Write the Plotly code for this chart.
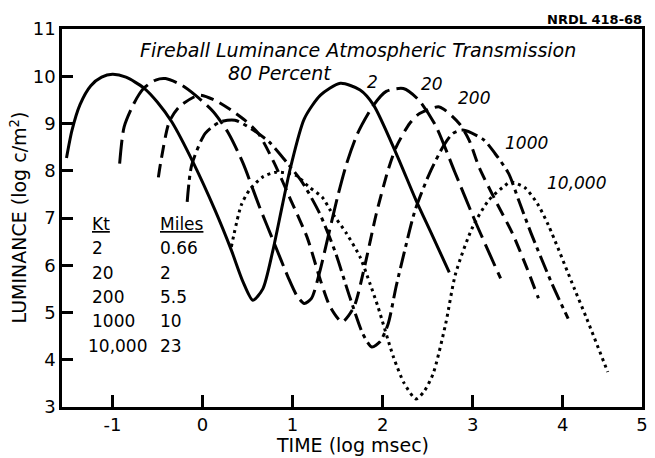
import plotly.graph_objects as go

# ---------------- data ----------------
yield_kt = ["2", "20", "200", "1000", "10,000"]
distance_miles = ["0.66", "2", "5.5", "10", "23"]

# 2 kt (solid)
x_2kt = [-1.51, -1.45, -1.36, -1.24, -1.12, -1.00, -0.85, -0.65, -0.50, -0.34, -0.10, 0.14,
         0.32, 0.45, 0.56, 0.67, 0.78, 0.89, 0.98, 1.13, 1.31, 1.53, 1.75, 1.90, 2.15, 2.37,
         2.54, 2.74]
y_2kt = [8.27, 8.85, 9.40, 9.80, 9.98, 10.04, 9.98, 9.75, 9.45, 9.03, 8.16, 7.16,
         6.32, 5.65, 5.26, 5.50, 6.30, 7.30, 8.09, 9.10, 9.60, 9.85, 9.71, 9.39, 8.37, 7.38,
         6.68, 5.85]

# 20 kt (long dash)
x_20kt = [-0.92, -0.87, -0.76, -0.65, -0.52, -0.41, -0.23, -0.08, 0.12, 0.29, 0.45, 0.63,
          0.80, 0.95, 1.05, 1.13, 1.21, 1.30, 1.40, 1.50, 1.60, 1.72, 1.90, 2.04, 2.23, 2.40,
          2.59, 2.80, 3.03, 3.31]
y_20kt = [8.15, 8.93, 9.43, 9.75, 9.92, 9.95, 9.81, 9.60, 9.25, 8.79, 8.16, 7.25,
          6.45, 5.75, 5.35, 5.19, 5.30, 5.85, 6.65, 7.45, 8.15, 8.78, 9.39, 9.68, 9.74, 9.50,
          8.95, 7.98, 6.92, 5.72]

# 200 kt (dash)
x_200kt = [-0.49, -0.46, -0.37, -0.26, -0.04, 0.14, 0.32, 0.47, 0.62, 0.80, 0.98, 1.16,
           1.31, 1.42, 1.55, 1.68, 1.79, 1.93, 2.06, 2.15, 2.30, 2.41, 2.63, 2.85, 2.96,
           3.07, 3.25, 3.44, 3.60, 3.73]
y_200kt = [7.86, 8.22, 9.03, 9.35, 9.60, 9.49, 9.28, 9.07, 8.79, 8.15, 7.38, 6.60,
           5.68, 5.11, 4.80, 5.11, 5.89, 7.09, 8.01, 8.50, 9.00, 9.21, 9.35, 9.00, 8.65,
           8.08, 7.38, 6.68, 5.95, 5.30]

# 1000 kt (dash-dot)
x_1000kt = [-0.17, -0.12, 0.03, 0.19, 0.36, 0.54, 0.74, 0.96, 1.11, 1.30, 1.47, 1.64,
            1.78, 1.88, 1.97, 2.06, 2.15, 2.25, 2.36, 2.52, 2.68, 2.78, 2.89, 3.12, 3.25,
            3.40, 3.51, 3.65, 3.88, 4.06]
y_1000kt = [7.34, 8.12, 8.79, 9.03, 9.07, 8.89, 8.61, 8.12, 7.75, 7.10, 6.30, 5.30,
            4.55, 4.27, 4.38, 4.75, 5.55, 6.35, 7.16, 7.94, 8.54, 8.79, 8.86, 8.66, 8.36,
            7.94, 7.38, 6.67, 5.61, 4.87]

# 10,000 kt (dotted)
x_10000kt = [0.32, 0.43, 0.52, 0.67, 0.82, 1.04, 1.18, 1.33, 1.42, 1.60, 1.75, 1.86, 1.95,
             2.12, 2.24, 2.37, 2.46, 2.56, 2.70, 2.81, 3.00, 3.18, 3.36, 3.42, 3.58, 3.72,
             3.84, 4.13, 4.26, 4.50]
y_10000kt = [6.39, 7.27, 7.59, 7.87, 7.97, 7.90, 7.66, 7.44, 7.16, 6.67, 6.17, 5.61, 5.11,
             4.06, 3.50, 3.17, 3.33, 3.70, 4.76, 5.82, 6.81, 7.38, 7.69, 7.76, 7.64, 7.30,
             6.85, 5.50, 4.90, 3.74]

x_tick_vals = [-1, 0, 1, 2, 3, 4]
x_tick_text = ["-1", "0", "1", "2", "3", "4", "5"]
y_tick_vals = [3, 4, 5, 6, 7, 8, 9, 10, 11]

# ---------------- figure ----------------
FONT = "DejaVu Sans"
series = [
    (x_2kt, y_2kt, "solid"),
    (x_20kt, y_20kt, "24px,7px"),
    (x_200kt, y_200kt, "13px,7px"),
    (x_1000kt, y_1000kt, "17px,5px,4px,5px"),
    (x_10000kt, y_10000kt, "3px,4px"),
]

fig = go.Figure()
for (xs, ys, dash), name in zip(series, yield_kt):
    fig.add_trace(go.Scatter(
        x=xs, y=ys, mode="lines", name=name + " Kt",
        line=dict(color="black", width=3, dash=dash, shape="spline", smoothing=0.7),
        showlegend=False, hoverinfo="skip"))

X_MIN, X_MAX = -1.56, 4.88

annotations = []
# title text inside the plot
annotations.append(dict(x=1.725, y=10.55, text="<i>Fireball Luminance Atmospheric Transmission</i>",
                        showarrow=False, xanchor="center", yanchor="middle",
                        font=dict(family=FONT, size=19, color="black")))
annotations.append(dict(x=0.264, y=10.07, text="<i>80 Percent</i>",
                        showarrow=False, xanchor="left", yanchor="middle",
                        font=dict(family=FONT, size=19, color="black")))
# curve labels
label_pos = [(1.89, 9.88), (2.55, 9.83), (3.02, 9.54), (3.60, 8.58), (4.15, 7.74)]
for lab, (lx, ly) in zip(yield_kt, label_pos):
    annotations.append(dict(x=lx, y=ly, text="<i>" + lab + "</i>", showarrow=False,
                            xanchor="center", yanchor="middle",
                            font=dict(family=FONT, size=17, color="black")))
# table
annotations.append(dict(x=-1.25, y=6.87, text="<u>Kt</u>", showarrow=False, xanchor="left",
                        yanchor="middle", font=dict(family=FONT, size=17, color="black")))
annotations.append(dict(x=-0.49, y=6.87, text="<u>Miles</u>", showarrow=False, xanchor="left",
                        yanchor="middle", font=dict(family=FONT, size=17, color="black")))
for i, (k, m) in enumerate(zip(yield_kt, distance_miles)):
    ry = 6.36 - 0.515 * i
    annotations.append(dict(x=-1.25 if k != "10,000" else -1.29, y=ry, text=k, showarrow=False,
                            xanchor="left", yanchor="middle",
                            font=dict(family=FONT, size=17, color="black")))
    annotations.append(dict(x=-0.49, y=ry, text=m, showarrow=False,
                            xanchor="left", yanchor="middle",
                            font=dict(family=FONT, size=17, color="black")))
# figure number
annotations.append(dict(x=1.004, y=1.024, xref="paper", yref="paper", text="<b>NRDL 418-68</b>",
                        showarrow=False, xanchor="right", yanchor="middle",
                        font=dict(family=FONT, size=13, color="black")))
# axis titles
annotations.append(dict(x=-0.075, y=0.5, xref="paper", yref="paper",
                        text="LUMINANCE (log c/m<sup>2</sup>)", textangle=-90, showarrow=False,
                        xanchor="center", yanchor="middle",
                        font=dict(family=FONT, size=19, color="black")))
annotations.append(dict(x=0.5, y=-0.10, xref="paper", yref="paper",
                        text="TIME (log msec)", showarrow=False,
                        xanchor="center", yanchor="middle",
                        font=dict(family=FONT, size=19, color="black")))

fig.update_layout(
    width=655, height=458,
    margin=dict(l=62, r=7, t=29, b=51),
    paper_bgcolor="white", plot_bgcolor="white",
    annotations=annotations,
    xaxis=dict(range=[X_MIN, X_MAX], tickvals=x_tick_vals + [X_MAX], ticktext=x_tick_text,
               ticks="inside", ticklen=12, tickwidth=2.5, tickcolor="black",
               showline=True, linewidth=2.5, linecolor="black", mirror=True,
               showgrid=False, zeroline=False,
               tickfont=dict(family=FONT, size=18, color="black")),
    yaxis=dict(range=[3, 11], tickvals=y_tick_vals,
               ticks="inside", ticklen=11, tickwidth=2.5, tickcolor="black",
               showline=True, linewidth=2.5, linecolor="black", mirror=True,
               showgrid=False, zeroline=False,
               tickfont=dict(family=FONT, size=18, color="black")),
)

fig.write_html("out.html")
